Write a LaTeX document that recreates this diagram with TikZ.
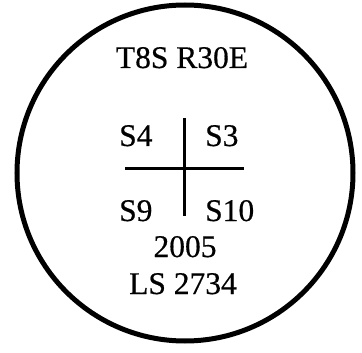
\documentclass[tikz,border=0pt]{standalone}
\usepackage{fontspec}
\setmainfont[FakeBold=0.5]{Liberation Serif}
\begin{document}
\begin{tikzpicture}[x=1pt,y=-1pt,
  lbl/.style={inner sep=0pt,font=\fontsize{31.5}{33}\selectfont},
  cross/.style={line width=3pt}]
\useasboundingbox (0,0) rectangle (362,353);
\node[circle,draw,line width=5pt,minimum size=336pt,inner sep=0pt] (ring) at (185,173) {};
\node[lbl,anchor=base] (twp) at (182,68) {T8S R30E};
\node[lbl,anchor=base west] (s4) at (119,146) {S4};
\node[lbl,anchor=base west] (s3) at (205,146) {S3};
\node[lbl,anchor=base west] (s9) at (119,221) {S9};
\node[lbl,anchor=base west] (s10) at (205,221) {S10};
\node[lbl,anchor=base] (yr) at (185,257) {2005};
\node[lbl,anchor=base] (ls) at (183,294) {LS 2734};
\coordinate (vt) at (184,118);
\coordinate (vb) at (184,216);
\coordinate (hl) at (125,168);
\coordinate (hr) at (244,168);
\draw[cross] (vt) -- (vb);
\draw[cross] (hl) -- (hr);
\end{tikzpicture}
\end{document}
